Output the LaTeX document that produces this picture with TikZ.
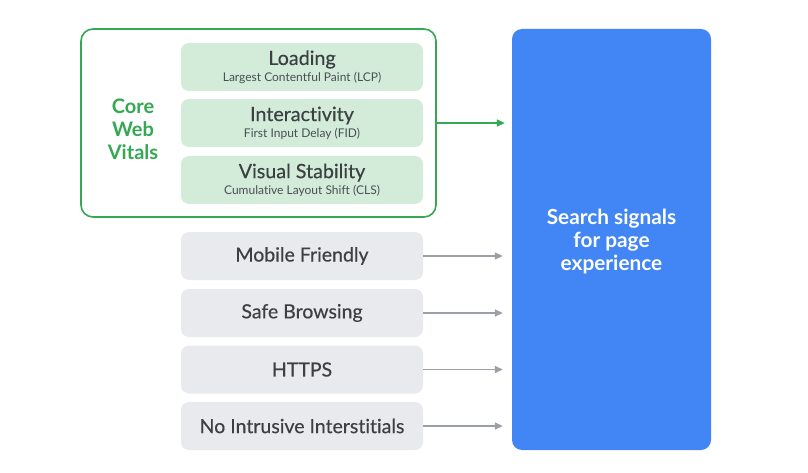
\documentclass[tikz,border=0pt]{standalone}
\usepackage{fontspec}
\setmainfont{Lato}[Ligatures=NoCommon]
\usetikzlibrary{arrows.meta}
\definecolor{gblue}{HTML}{4285F4}
\definecolor{ggreen}{HTML}{34A853}
\definecolor{gfill}{HTML}{D3ECD9}
\definecolor{grayfill}{HTML}{E8EAED}
\definecolor{grayarrow}{HTML}{9AA0A6}
\definecolor{gtext}{HTML}{3C4043}
\definecolor{gsub}{HTML}{4A4F54}
\newcommand{\medw}{\addfontfeature{FakeBold=0.35}}
\tikzset{
  vitalbox/.style={rectangle, rounded corners=8pt, fill=gfill, minimum width=242pt, minimum height=48pt, inner sep=0pt, align=center, text=gtext},
  signalbox/.style={rectangle, rounded corners=8pt, fill=grayfill, minimum width=242pt, minimum height=48pt, inner sep=0pt, align=center, text=gtext, font=\fontsize{19.5}{21}\selectfont\medw},
  greenarrow/.style={draw=ggreen, line width=1.6pt, -{Triangle[length=8pt,width=7pt]}, shorten >=7pt},
  grayarr/.style={draw=grayarrow, line width=1.6pt, -{Triangle[length=8pt,width=7pt]}, shorten >=9pt},
}
\newcommand{\vtitle}[2]{{\fontsize{19.7}{20}\selectfont\medw #1}\\[2.5pt]{\fontsize{12}{13}\selectfont\color{gsub} #2}}
\begin{document}
\begin{tikzpicture}[x=1pt,y=-1pt]
\useasboundingbox (0,0) rectangle (808,473);
\fill[white] (0,0) rectangle (808,473);
\node[rectangle, rounded corners=12pt, draw=ggreen, line width=1.6pt, minimum width=355pt, minimum height=188pt, inner sep=0pt] (cwv) at (258.5,123) {};
\node[font=\bfseries\fontsize{20}{23}\selectfont, text=ggreen, align=center] (cwvlabel) at (133,129) {Core\\Web\\Vitals};
\node[vitalbox] (load) at (302,67) {\vtitle{Loading}{Largest Contentful Paint (LCP)}};
\node[vitalbox] (inter) at (302,123) {\vtitle{Interactivity}{First Input Delay (FID)}};
\node[vitalbox] (visual) at (302,180) {\vtitle{Visual Stability}{Cumulative Layout Shift (CLS)}};
\node[rectangle, rounded corners=10pt, fill=gblue, minimum width=199pt, minimum height=421pt, inner sep=0pt] (blue) at (611.5,239.5) {};
\node[font=\bfseries\fontsize{20.8}{23}\selectfont, text=white, align=center] (bluelabel) at (611.5,242) {Search signals\\for page\\experience};
\node[signalbox] (mobile) at (302,256) {Mobile Friendly};
\node[signalbox] (safe) at (302,313) {Safe Browsing};
\node[signalbox] (https) at (302,369.5) {HTTPS};
\node[signalbox] (nointr) at (302,426) {No Intrusive Interstitials};
\draw[greenarrow] (cwv.east) -- (cwv.east -| blue.west);
\draw[grayarr] (mobile.east) -- (mobile.east -| blue.west);
\draw[grayarr] (safe.east) -- (safe.east -| blue.west);
\draw[grayarr] (https.east) -- (https.east -| blue.west);
\draw[grayarr] (nointr.east) -- (nointr.east -| blue.west);
\end{tikzpicture}
\end{document}
